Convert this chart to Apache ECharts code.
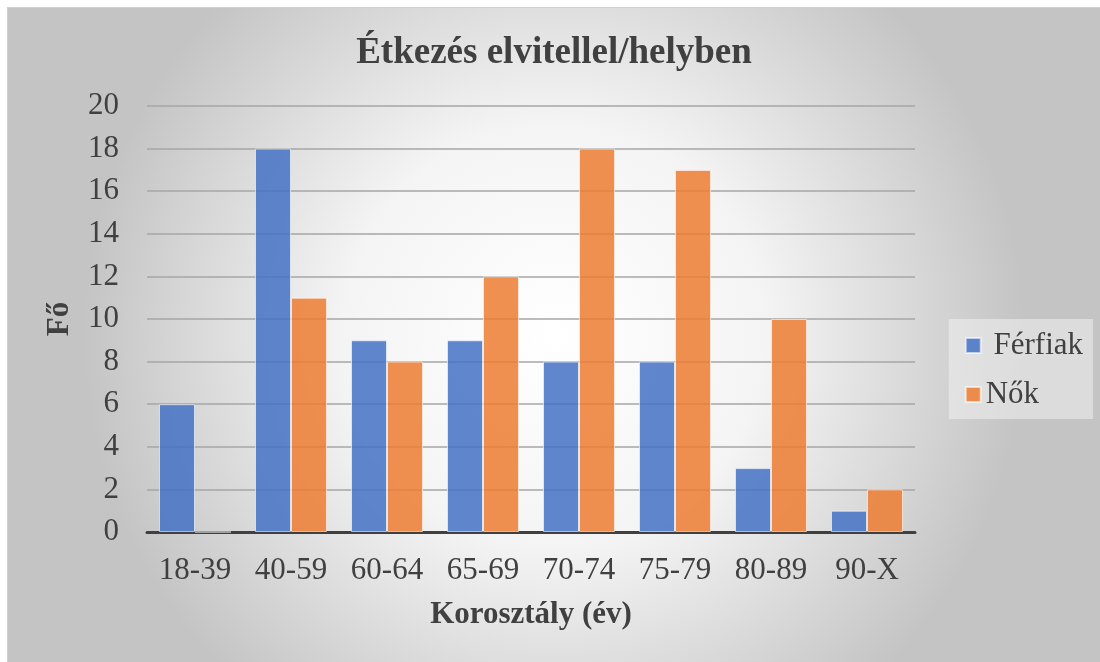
<!DOCTYPE html>
<html>
<head>
<meta charset="utf-8">
<script src="https://cdn.jsdelivr.net/npm/echarts@6/dist/echarts.min.js"></script>
<style>
  html, body { margin: 0; padding: 0; background: #fff; }
  #chart { position: absolute; left: 7px; top: 7px; width: 1093px; height: 655px;
           border-top: 1px solid #cfcfcf; border-left: 1px solid #cfcfcf; box-sizing: border-box; }
</style>
</head>
<body>
<div id="chart"></div>
<script>
// korosztályok és értékek
var categories = ['18-39', '40-59', '60-64', '65-69', '70-74', '75-79', '80-89', '90-X'];
var ferfiak = [6, 18, 9, 9, 8, 8, 3, 1];
var nok = [0, 11, 8, 12, 18, 17, 10, 2];
var seriesNames = ['Férfiak', 'Nők'];

var chart = echarts.init(document.getElementById('chart'));
var serif = '"Liberation Serif", "DejaVu Serif", serif';

var option = {
  backgroundColor: {
    type: 'radial', x: 0.5, y: 0.5, r: 0.72,
    colorStops: [
      { offset: 0, color: '#ffffff' },
      { offset: 0.45, color: '#f4f4f4' },
      { offset: 1, color: '#c4c4c4' }
    ]
  },
  title: {
    text: 'Étkezés elvitellel/helyben',
    left: 'center',
    top: 22,
    textStyle: { fontFamily: serif, fontSize: 37, fontWeight: 'bold', color: '#404040' }
  },
  legend: {
    orient: 'vertical',
    right: 7,
    top: 311,
    itemWidth: 15,
    itemHeight: 15,
    itemGap: 18,
    itemTextGap: 8,
    padding: [11, 10, 9, 16],
    backgroundColor: 'rgba(240,240,240,0.55)',
    textStyle: { fontFamily: serif, fontSize: 31, color: '#404040' },
    data: [
      { name: seriesNames[0], icon: 'rect' },
      { name: seriesNames[1], icon: 'rect' }
    ],
    formatter: function (n) { return n === 'Férfiak' ? ' ' + n : n; }
  },
  grid: { left: 139, right: 185, top: 98, bottom: 130, containLabel: false },
  xAxis: {
    type: 'category',
    data: categories,
    name: 'Korosztály (év)',
    nameLocation: 'middle',
    nameGap: 67,
    nameTextStyle: { fontFamily: serif, fontSize: 31, fontWeight: 'bold', color: '#404040' },
    axisLine: { lineStyle: { color: '#404040', width: 3 } },
    axisTick: { show: false },
    axisLabel: { fontFamily: serif, fontSize: 31, color: '#404040', margin: 23 }
  },
  yAxis: {
    type: 'value',
    min: 0, max: 20, interval: 2,
    name: 'Fő',
    nameLocation: 'middle',
    nameGap: 72,
    nameRotate: 90,
    nameTextStyle: { fontFamily: serif, fontSize: 31, fontWeight: 'bold', color: '#404040' },
    axisLine: { show: false },
    axisTick: { show: false },
    axisLabel: { fontFamily: serif, fontSize: 31, color: '#404040', margin: 28 },
    splitLine: { lineStyle: { color: '#a6a6a6', width: 1.5 } }
  },
  series: [
    {
      name: seriesNames[0], type: 'bar', data: ferfiak,
      barGap: '0%', barCategoryGap: '25%',
      itemStyle: { color: 'rgba(68,114,196,0.85)', borderColor: 'rgba(255,255,255,0.6)', borderWidth: 1 }
    },
    {
      name: seriesNames[1], type: 'bar', data: nok,
      itemStyle: { color: 'rgba(237,125,49,0.85)', borderColor: 'rgba(255,255,255,0.6)', borderWidth: 1 }
    }
  ]
};
chart.setOption(option);
</script>
</body>
</html>
